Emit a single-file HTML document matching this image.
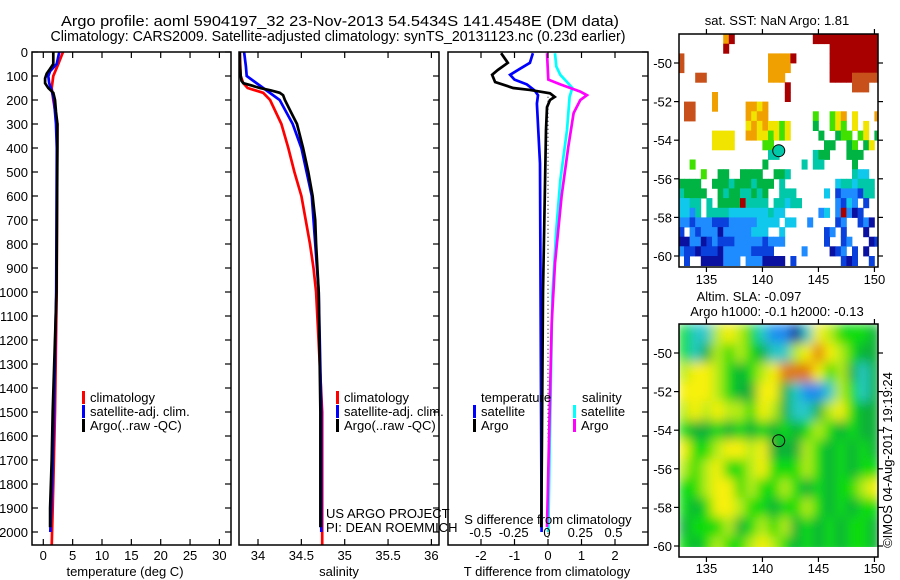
<!DOCTYPE html>
<html><head><meta charset="utf-8"><style>
html,body{margin:0;padding:0;background:#fff;}
svg{display:block;font-family:"Liberation Sans",sans-serif;}
text{fill:#000;}
</style></head><body>
<svg id="root" width="900" height="580" viewBox="0 0 900 580" xmlns="http://www.w3.org/2000/svg">
<defs>
<clipPath id="c1"><rect x="32" y="52" width="199" height="493"/></clipPath>
<clipPath id="c2"><rect x="239" y="52" width="200" height="493"/></clipPath>
<clipPath id="c3"><rect x="448" y="52" width="200" height="493"/></clipPath>
<clipPath id="cm1"><rect x="679" y="34" width="199" height="233"/></clipPath>
<clipPath id="cm2"><rect x="679" y="324" width="199" height="233"/></clipPath>
<filter id="blur" x="0" y="0" width="1" height="1"><feGaussianBlur stdDeviation="5.5" edgeMode="duplicate"/></filter>
</defs>
<text x="340" y="26" text-anchor="middle" font-size="15" textLength="558" lengthAdjust="spacingAndGlyphs">Argo profile: aoml 5904197_32 23-Nov-2013 54.5434S 141.4548E (DM data)</text>
<text x="338" y="41" text-anchor="middle" font-size="15" textLength="575" lengthAdjust="spacingAndGlyphs">Climatology: CARS2009. Satellite-adjusted climatology: synTS_20131123.nc (0.23d earlier)</text>
<g id="axes"></g>
<g id="p1" clip-path="url(#c1)"></g>
<g id="p2" clip-path="url(#c2)"></g>
<g id="p3" clip-path="url(#c3)"></g>
<g id="m1" clip-path="url(#cm1)"></g>
<g id="m2" clip-path="url(#cm2)"></g>
<g id="fg"></g>
</svg>
<script>
// ---- profile data ----
const depthTicks = [0,100,200,300,400,500,600,700,800,900,1000,1100,1200,1300,1400,1500,1600,1700,1800,1900,2000];
const tempTicks = [0,5,10,15,20,25,30];
const salTicks = [34,34.5,35,35.5,36];
const tdiffTicks = [-2,-1,0,1,2];
const sdiffTicks = [-0.5,-0.25,0,0.25,0.5];

const tClimDepth = [0,50,100,150,200,300,500,1000,1500,1800,2060];
const tClimVal   = [3.36,2.55,1.7,1.43,1.7,2.4,2.35,2.28,2.0,1.7,1.43];
const tSatDepth  = [0,50,80,100,130,160,200,300,400,1000,1500,1800,2000];
const tSatVal    = [2.73,2.28,1.15,0.86,1.0,1.43,1.82,2.16,2.3,2.2,1.8,1.5,1.2];
const tArgoDepth = [0,50,70,90,110,130,150,170,200,250,300,400,1000,1500,1700,1900,1980];
const tArgoVal   = [1.7,1.7,1.15,0.58,0.3,0.3,0.85,1.7,2.0,2.16,2.4,2.4,2.25,1.6,1.43,1.15,1.15];

const sClimDepth = [0,100,130,150,170,200,300,400,500,600,700,800,900,1000,1500,2060];
const sClimVal   = [33.79,33.8,33.83,33.88,34.06,34.14,34.27,34.35,34.42,34.5,34.55,34.6,34.64,34.67,34.74,34.74];
const sSatDepth  = [0,60,100,150,200,300,400,600,1000,1500,2000];
const sSatVal    = [33.84,33.86,33.87,34.06,34.25,34.4,34.5,34.62,34.7,34.73,34.73];
const sArgoDepth = [0,50,100,120,130,140,150,160,170,180,200,250,300,400,500,600,700,800,1000,1500,1980];
const sArgoVal   = [33.79,33.79,33.8,33.81,33.83,33.93,34.02,34.15,34.25,34.29,34.31,34.38,34.45,34.52,34.58,34.63,34.66,34.67,34.7,34.72,34.72];

const dtArgoDepth = [5,45,75,95,125,150,158,172,187,200,230,325,1000,1980];
const dtArgoVal   = [-1.4,-1.2,-1.5,-1.67,-1.58,-1.04,-0.54,0.06,0.2,0.06,-0.03,-0.06,-0.15,-0.2];
const dtSatDepth  = [5,45,70,95,115,135,160,180,215,465,2000];
const dtSatVal    = [-0.45,-0.54,-0.84,-1.13,-1.0,-0.63,-0.4,-0.3,-0.33,-0.24,-0.19];
const dsSatDepth  = [5,60,95,125,150,187,325,535,740,1020,2000];
const dsSatVal    = [0.06,0.07,0.1,0.15,0.19,0.17,0.15,0.1,0.07,0.04,0.01];
const dsArgoDepth = [5,115,135,165,180,200,255,395,600,880,1130,1980];
const dsArgoVal   = [0,0.01,0.1,0.25,0.3,0.25,0.2,0.16,0.11,0.06,0.035,0.0];

// ---- map data ----
const latTicks = [-50,-52,-54,-56,-58,-60];
const lonTicks = [135,140,145,150];
const sstRows = [
"........89..............999999999999",
"........9..................999999999",
"a...............88889......999999999",
"a...............8888.......999999999",
"...aa...........888........9999aaaaa",
"...................9...........aaa..",
"......8............9................",
".aa...8.....8878....................",
".aa.........8788........6..678.7...8",
"............78787767....5..676.7.7..",
"......7777..88776767.....5..566.67.5",
"......7777.....66.........55..56.57.",
"................44......455...555...",
"..6............5......4.44.....5....",
"....6..55..5555..554...........433..",
"5555..55545554555.4.........3443444",
"45555..545544545..444.....3.1222144",
"3344.4.555594444.44344......2132.1.",
"3324.44443333333433......23.29201.",
"221222111222223333.33..2....12..120..",
"1.21222022222333..3.......12.1...0.",
"0022012111222221222.......1..12...01",
"21101110222221111.....2....012.1.0",
".1..0000222.2220000.1........101..1.."
];
const sstCode = ".0123456789a";
const sstColors = ["#0a10a0","#0a40dc","#1e8cff","#10c8ec","#00c8a8","#00b444","#40e000","#f0e400","#f0a000","#a80000","#c8501a"];
const slaRows = [
"gcclylgcbbncylgggd",
"gcdlglgdcclyoylgdd",
"lyylgdglyoooygldcd",
"yyylgddyydcbbclgcd",
"lylyllgyldccdlygdd",
"gddgdgdgdgdglgdgdd",
"ygglyylydddlgdgdgd",
"lglygglyggglgdgdgg",
"gglyyglgglgdgdggly",
"gdgyylggdgglgdgdgg",
"dgggldglgldgdgdggd",
"gdglgglylgdgdgdggd"
];
const slaCode = "nbcdglyo";
const slaColors = ["#0a1c90","#1e8cf0","#28c8c8","#08b038","#10dc10","#b8ec18","#f8f010","#e07808"];

const NS="http://www.w3.org/2000/svg";
function el(tag, attrs, parent, txt){const e=document.createElementNS(NS,tag);for(const k in attrs)e.setAttribute(k,attrs[k]);if(txt!==undefined)e.textContent=txt;parent.appendChild(e);return e;}

const yD = d => 52 + d*0.24;
const xT = t => 43.3 + t*5.87;
const xS = s => 258 + (s-34)*86.7;
const xDT = v => 548 + v*33.5;
const xDS = v => 547 + v*133;
const lonX = l => 679 + (l-132.55)*11.2;
const latY1 = l => 63 + (-50-l)*19.3;
const latY2 = l => 353 + (-50-l)*19.3;

const axes = document.getElementById('axes');
const fg = document.getElementById('fg');

function line(parent, depths, vals, xf, color, name, w){
  let d='';
  for(let i=0;i<depths.length;i++){d+=(i?'L':'M')+xf(vals[i]).toFixed(1)+','+yD(depths[i]).toFixed(1);}
  const p = el('path',{d:d,fill:'none',stroke:color,'stroke-width':w||2.7,'stroke-linejoin':'miter'},parent);
  
  
}

const panels=[[32,231],[239,439],[448,648]];
panels.forEach((p,i)=>{
  const r = el('rect',{x:p[0],y:52,width:p[1]-p[0],height:493,fill:'none',stroke:'#000','stroke-width':1.5},fg);
  
  
  depthTicks.forEach(d=>{
    el('line',{x1:p[1]-6,x2:p[1],y1:yD(d),y2:yD(d),stroke:'#000','stroke-width':1.2},fg);
    if(i===0) el('line',{x1:p[0],x2:p[0]+6,y1:yD(d),y2:yD(d),stroke:'#000','stroke-width':1.2},fg);
  });
});
depthTicks.forEach(d=>{
  const t = el('text',{x:28,y:yD(d)+5,'text-anchor':'end','font-size':13},axes,String(d));
  
  
});
function xticks(ticks, xf, labY, name){
  ticks.forEach(v=>{
    const x=xf(v);
    el('line',{x1:x,x2:x,y1:52,y2:58,stroke:'#000','stroke-width':1.2},fg);
    el('line',{x1:x,x2:x,y1:539,y2:545,stroke:'#000','stroke-width':1.2},fg);
    const t = el('text',{x:x,y:labY,'text-anchor':'middle','font-size':13},axes,String(v));
    
    
  });
}
xticks(tempTicks,xT,560,'temperature-tick-label');
xticks(salTicks,xS,560,'salinity-tick-label');
xticks(tdiffTicks,xDT,560,'tdiff-tick-label');
sdiffTicks.forEach(v=>{
  const t = el('text',{x:xDS(v),y:537,'text-anchor':'middle','font-size':13},fg,String(v));
  
  
});
[['temperature (deg C)',125,'temperature-axis-title'],['salinity',339,'salinity-axis-title'],['T difference from climatology',547,'tdiff-axis-title']].forEach(a=>{
  const t = el('text',{x:a[1],y:576,'text-anchor':'middle','font-size':13},axes,a[0]);
  
  
});
{
  const t = el('text',{x:548,y:524,'text-anchor':'middle','font-size':13},fg,'S difference from climatology');
  
  
}

const p1=document.getElementById('p1'), p2=document.getElementById('p2'), p3=document.getElementById('p3');
line(p1,tClimDepth,tClimVal,xT,'#ff0000','temp-climatology-line');
line(p1,tSatDepth,tSatVal,xT,'#0000ff','temp-satellite-line');
line(p1,tArgoDepth,tArgoVal,xT,'#000000','temp-argo-line');
line(p2,sClimDepth,sClimVal,xS,'#ff0000','sal-climatology-line');
line(p2,sSatDepth,sSatVal,xS,'#0000ff','sal-satellite-line');
line(p2,sArgoDepth,sArgoVal,xS,'#000000','sal-argo-line');
{
  const z = el('line',{x1:xDT(0),x2:xDT(0),y1:yD(170),y2:545,stroke:'#000','stroke-width':1,'stroke-dasharray':'1,3'},p3);
  
  
}
line(p3,dsSatDepth,dsSatVal,xDS,'#00ffff','sdiff-satellite-line');
line(p3,dsArgoDepth,dsArgoVal,xDS,'#ff00ff','sdiff-argo-line');
line(p3,dtSatDepth,dtSatVal,xDT,'#0000ff','tdiff-satellite-line');
line(p3,dtArgoDepth,dtArgoVal,xDT,'#000000','tdiff-argo-line');

function legendEntry(x,y,color,label,name){
  const g = el('g',{},fg);
  
  
  el('rect',{x:x,y:y-11,width:3,height:13,fill:color},g);
  el('text',{x:x+8,y:y,'font-size':13},g,label);
}
[[82,402,'#ff0000','climatology'],[82,416,'#0000ff','satellite-adj. clim.'],[82,430,'#000000','Argo(..raw -QC)']].forEach(e=>legendEntry(e[0],e[1],e[2],e[3],'temp-legend-entry'));
[[336,402,'#ff0000','climatology'],[336,416,'#0000ff','satellite-adj. clim.'],[336,430,'#000000','Argo(..raw -QC)']].forEach(e=>legendEntry(e[0],e[1],e[2],e[3],'sal-legend-entry'));
{
  const t1 = el('text',{x:481,y:402,'font-size':13},fg,'temperature');
  
  
  const t2 = el('text',{x:582,y:402,'font-size':13},fg,'salinity');
  
  
}
legendEntry(473,416,'#0000ff','satellite','tdiff-legend-satellite');
legendEntry(473,430,'#000000','Argo','tdiff-legend-argo');
legendEntry(573,416,'#00ffff','satellite','sdiff-legend-satellite');
legendEntry(573,430,'#ff00ff','Argo','sdiff-legend-argo');
{
  const a = el('text',{x:326,y:518,'font-size':13},fg,'US ARGO PROJECT');
  
  
  const b = el('text',{x:326,y:532,'font-size':13},fg,'PI: DEAN ROEMMICH');
  
  
}

const m1=document.getElementById('m1');
sstRows.forEach((row,r)=>{
  for(let c=0;c<row.length&&c<36;c++){
    const k=sstCode.indexOf(row[c]);
    if(k<=0) continue;
    const lon0=132.5+c*0.5, lat0=-48.5-r*0.5;
    const x0=lonX(lon0), x1=lonX(lon0+0.5), y0=latY1(lat0), y1=latY1(lat0-0.5);
    const cell = el('rect',{x:x0.toFixed(1),y:y0.toFixed(1),width:(x1-x0+0.4).toFixed(1),height:(y1-y0+0.4).toFixed(1),fill:sstColors[k-1]},m1);
    
    
  }
});
const m2=document.getElementById('m2');
const blurG = el('g',{filter:'url(#blur)'},m2);
slaRows.forEach((row,r)=>{
  for(let c=0;c<row.length;c++){
    const k=slaCode.indexOf(row[c]);
    const lon0=132.5+c, lat0=-48.5-r;
    const x0=lonX(lon0), x1=lonX(lon0+1), y0=latY2(lat0), y1=latY2(lat0-1);
    const cell = el('rect',{x:x0.toFixed(1),y:y0.toFixed(1),width:(x1-x0+0.5).toFixed(1),height:(y1-y0+0.5).toFixed(1),fill:slaColors[k]},blurG);
    
    
  }
});
el('rect',{x:679,y:latY2(-60.05),width:200,height:20,fill:'#fff'},m2);

function mapAxes(top,bottom,latY,lonLabY,idx){
  const r = el('rect',{x:679,y:top,width:199,height:bottom-top,fill:'none',stroke:'#000','stroke-width':1.5},fg);
  
  
  latTicks.forEach(l=>{
    const y=latY(l);
    el('line',{x1:674,x2:679,y1:y,y2:y,stroke:'#000','stroke-width':1.2},fg);
    el('line',{x1:878,x2:883,y1:y,y2:y,stroke:'#000','stroke-width':1.2},fg);
    const t = el('text',{x:672,y:y+5,'text-anchor':'end','font-size':13},fg,String(l));
    
    
  });
  lonTicks.forEach(l=>{
    const x=lonX(l);
    el('line',{x1:x,x2:x,y1:top-5,y2:top,stroke:'#000','stroke-width':1.2},fg);
    el('line',{x1:x,x2:x,y1:bottom,y2:bottom+5,stroke:'#000','stroke-width':1.2},fg);
    const t = el('text',{x:x,y:lonLabY,'text-anchor':'middle','font-size':13},fg,String(l));
    
    
  });
}
mapAxes(34,267,latY1,284,1);
mapAxes(324,557,latY2,573,2);
{
  const c1 = el('circle',{cx:lonX(141.4548),cy:latY1(-54.5434),r:6,fill:'#00c8a8',stroke:'#000','stroke-width':1},fg);
  
  
  const c2 = el('circle',{cx:lonX(141.4548),cy:latY2(-54.5434),r:6,fill:'none',stroke:'#000','stroke-width':1},fg);
  
  
  const t1 = el('text',{x:777,y:25,'text-anchor':'middle','font-size':13},fg,'sat. SST: NaN Argo: 1.81');
  
  
  const t2 = el('text',{x:749,y:301,'text-anchor':'middle','font-size':13},fg,'Altim. SLA: -0.097');
  
  
  const t3 = el('text',{x:777,y:316,'text-anchor':'middle','font-size':13},fg,'Argo h1000: -0.1 h2000: -0.13');
  
  
  const t4 = el('text',{x:0,y:0,'text-anchor':'middle','font-size':13,transform:'translate(892,460) rotate(-90)'},fg,'\u00a9IMOS 04-Aug-2017 19:19:24');
  
  
}
</script>
</body></html>
